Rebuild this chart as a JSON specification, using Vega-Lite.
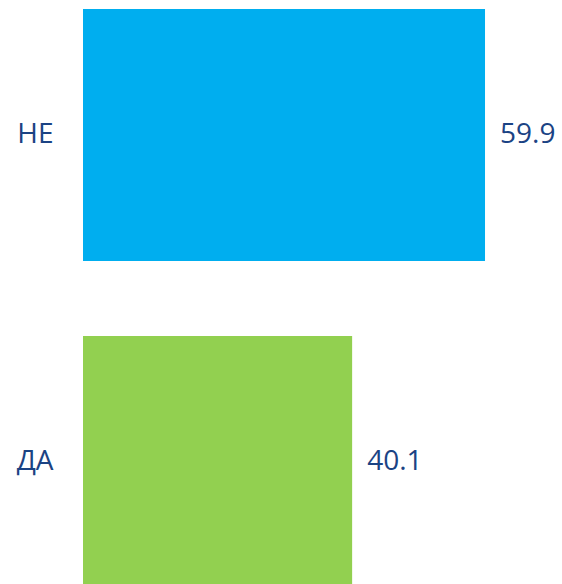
{
  "$schema": "https://vega.github.io/schema/vega-lite/v6.json",
  "width": 479,
  "height": 584,
  "autosize": "none",
  "padding": {"left": 83, "top": 0, "right": 0, "bottom": 0},
  "background": "white",
  "config": {"view": {"stroke": null}, "font": "Open Sans"},
  "data": {"values": [
    {"answer": "НЕ", "value": 59.9},
    {"answer": "ДА", "value": 40.1}
  ]},
  "encoding": {
    "y": {
      "field": "answer", "type": "nominal", "sort": ["НЕ", "ДА"],
      "scale": {"range": [0, 597], "paddingInner": 0.23, "paddingOuter": 0.0275},
      "axis": {"title": null, "domain": false, "ticks": false, "labelPadding": 30, "labelFontSize": 28, "labelColor": "#1B4384", "labelFont": "Open Sans", "labelAlign": "right"}
    }
  },
  "layer": [
    {
      "mark": {"type": "bar", "clip": true},
      "encoding": {
        "x": {"field": "value", "type": "quantitative", "scale": {"domain": [0, 71.37], "nice": false}, "axis": null},
        "color": {"field": "answer", "type": "nominal", "scale": {"domain": ["НЕ", "ДА"], "range": ["#00AEEF", "#92D050"]}, "legend": null}
      }
    },
    {
      "mark": {"type": "text", "align": "left", "dx": 15, "fontSize": 28, "color": "#1B4384", "font": "Open Sans"},
      "encoding": {
        "x": {"field": "value", "type": "quantitative"},
        "text": {"field": "value", "type": "quantitative", "format": ".1f"}
      }
    }
  ]
}
